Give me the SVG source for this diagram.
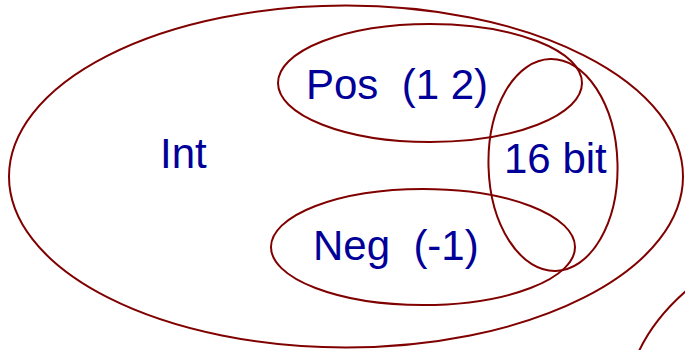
<svg xmlns="http://www.w3.org/2000/svg" width="685" height="350" viewBox="0 0 685 350">
<style>
.set{fill:none;stroke:#800000;stroke-width:2}
.lbl{font-family:"Liberation Sans",Arial,sans-serif;font-size:42px;fill:#000099;white-space:pre}
</style>
<rect width="685" height="350" fill="#ffffff"/>
<g id="int">
<ellipse class="set" cx="346" cy="176.5" rx="337" ry="171"/>
<text class="lbl" x="160" y="168">Int</text>
</g>
<g id="pos">
<ellipse class="set" cx="430" cy="83" rx="152" ry="59"/>
<text class="lbl" x="306" y="99" xml:space="preserve">Pos  (1 2)</text>
</g>
<g id="neg">
<ellipse class="set" cx="423" cy="247" rx="152" ry="58"/>
<text class="lbl" x="313" y="260" xml:space="preserve">Neg  (-1)</text>
</g>
<g id="bit16">
<ellipse class="set" cx="553" cy="165" rx="64.5" ry="106" transform="rotate(-1.5 553 165)"/>
<text class="lbl" x="504" y="173">16 bit</text>
</g>
<g id="other">
<path class="set" d="M639 351 C648 332 662 312 686 291"/>
</g>
</svg>
